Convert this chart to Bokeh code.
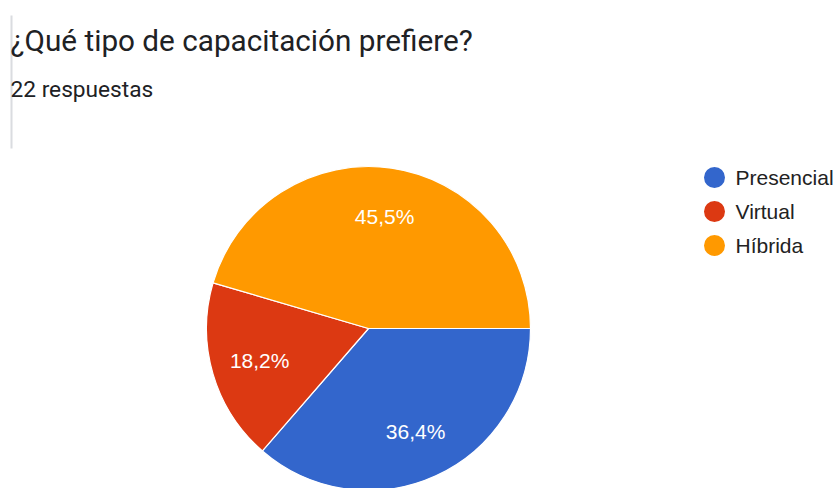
import numpy as np
from bokeh.plotting import figure
from bokeh.models import Range1d
from bokeh.core.properties import value
from bokeh.embed import file_html
from bokeh.resources import INLINE

# ---- data ----
title = "¿Qué tipo de capacitación prefiere?"
subtitle = "22 respuestas"
categories = ["Presencial", "Virtual", "Híbrida"]
percents = [36.4, 18.2, 45.5]
labels = ["36,4%", "18,2%", "45,5%"]
colors = ["#3366CC", "#DC3912", "#FF9900"]

W, H = 837, 488
p = figure(width=W, height=H, output_backend="svg", toolbar_location=None,
           x_range=Range1d(0, W), y_range=Range1d(0, H),
           min_border=0, x_axis_location=None, y_axis_location=None)
p.grid.visible = False
p.outline_line_color = None
p.background_fill_color = "white"
p.border_fill_color = "white"

def Y(sy):
    return H - sy

# left gray rule
p.segment(x0=[11], y0=[Y(15)], x1=[11], y1=[Y(148)], line_color="#dadce0", line_width=2)

# title / subtitle
p.text(x=[10], y=[Y(40)], text=[title], text_font=value("Roboto"), text_font_size="29.7px",
       text_color="#202124", text_baseline="middle")
p.text(x=[10], y=[Y(89)], text=[subtitle], text_font=value("Roboto"), text_font_size="22.7px",
       text_color="#202124", text_baseline="middle")

# pie
cx, cy, r = 368, Y(328), 162
frac = np.array(percents) / sum(percents)
cum = np.concatenate([[0], np.cumsum(frac)])
starts = -2 * np.pi * cum[1:]
ends = -2 * np.pi * cum[:-1]
p.wedge(x=cx, y=cy, radius=r, start_angle=starts, end_angle=ends,
        fill_color=colors, line_color="white", line_width=1.2)

mid = (starts + ends) / 2
lr = 0.7 * r
p.text(x=cx + lr * np.cos(mid), y=cy + lr * np.sin(mid), text=labels,
       text_font=value("Liberation Sans"), text_font_size="21px", text_color="white",
       text_align="center", text_baseline="middle")

# legend
ly = [Y(177 + 34 * i) for i in range(len(categories))]
p.scatter(x=[714] * len(categories), y=ly, size=21, marker="circle",
          fill_color=colors, line_color=None)
p.text(x=[735] * len(categories), y=ly, text=categories,
       text_font=value("Liberation Sans"), text_font_size="21px", text_color="#222222",
       text_baseline="middle")

open("out.html", "w").write(file_html(p, INLINE))
